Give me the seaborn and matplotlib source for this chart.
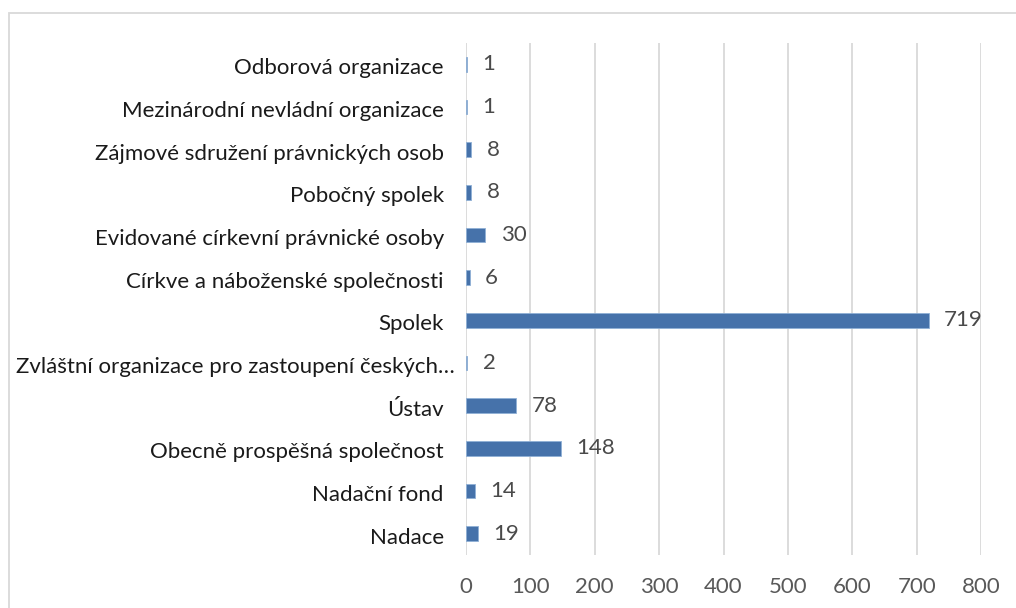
import matplotlib
matplotlib.use("Agg")
import matplotlib.pyplot as plt
import matplotlib.transforms as mtransforms
import seaborn as sns
import pandas as pd
from matplotlib.patches import Rectangle

# data, top to bottom as shown in the chart
categories = [
    "Odborová organizace",
    "Mezinárodní nevládní organizace",
    "Zájmové sdružení právnických osob",
    "Pobočný spolek",
    "Evidované církevní právnické osoby",
    "Církve a náboženské společnosti",
    "Spolek",
    "Zvláštní organizace pro zastoupení českých…",
    "Ústav",
    "Obecně prospěšná společnost",
    "Nadační fond",
    "Nadace",
]
counts = [1, 1, 8, 8, 30, 6, 719, 2, 78, 148, 14, 19]
x_ticks = [0, 100, 200, 300, 400, 500, 600, 700, 800]

df = pd.DataFrame({"category": categories, "count": counts})

sns.set_style("white")
plt.rcParams["font.family"] = ["Lato", "DejaVu Sans"]

fig = plt.figure(figsize=(10.16, 6.08), dpi=100)
W, H = 1016, 608
ax = fig.add_axes([466 / W, 1 - 555 / H, (981 - 466) / W, (555 - 43) / H])

sns.barplot(data=df, x="count", y="category", orient="h", color="#4672aa",
            width=0.35, saturation=1, edgecolor="#8fb0d6", linewidth=0.6, ax=ax)

ax.set_xlim(0, 800)
ax.set_ylim(11.5, -0.5)
ax.set_xticks(x_ticks)
ax.grid(axis="x", color="#d9d9d9", linewidth=1.3)
ax.set_axisbelow(True)
for s in ax.spines.values():
    s.set_visible(False)

ax.tick_params(axis="y", length=0, pad=16, labelsize=16, labelcolor="#1a1a1a")
ax.tick_params(axis="x", length=0, pad=16, labelsize=16, labelcolor="#595959")
ax.set_xlabel("")
ax.set_ylabel("")

# nudge row labels down a touch, the long truncated one closer to the axis
for i, lbl in enumerate(ax.get_yticklabels()):
    dx = 11 / 100 if i == 7 else 0
    lbl.set_transform(lbl.get_transform() +
                      mtransforms.ScaledTranslation(dx, -2 / 100, fig.dpi_scale_trans))

ax.bar_label(ax.containers[0], labels=[str(v) for v in counts], padding=11,
             fontsize=16, color="#4a4a4a")

# light chart border like the Excel chart frame
fig.patches.append(Rectangle((8.5 / W, -0.1), 1.2, 1 - 13.5 / H + 0.1,
                             transform=fig.transFigure, fill=False,
                             edgecolor="#d9d9d9", linewidth=1.3))

plt.savefig("out.png", dpi=100)
